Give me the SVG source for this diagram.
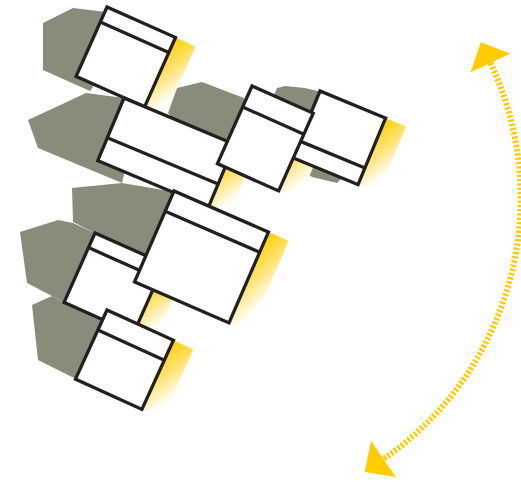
<svg xmlns="http://www.w3.org/2000/svg" width="521" height="482" viewBox="0 0 521 482">
  <defs>
    <style>
      .shade { fill: #8a8c7b; }
      .glow { fill: url(#gy); }
      .win rect { fill: #ffffff; stroke: #231f20; stroke-width: 3.3; }
      .win line { stroke: #231f20; stroke-width: 3.3; }
      .arc { fill: none; stroke: #ffcc00; stroke-width: 6; stroke-dasharray: 2.4 1.9; }
    </style>
    <linearGradient id="gy" x1="0" y1="0" x2="0.5" y2="1">
      <stop offset="0" stop-color="#ffd000"/>
      <stop offset="0.5" stop-color="#ffe372"/>
      <stop offset="1" stop-color="#ffffff"/>
    </linearGradient>
    <marker id="tri" markerUnits="userSpaceOnUse" markerWidth="30" markerHeight="50" viewBox="-2 -24 28 48" refX="0" refY="0" orient="auto-start-reverse">
      <path d="M0,-21 L22,0 L0,21 Z" fill="#ffcc00"/>
    </marker>
  </defs>

  <g id="shadows">
    <polygon class="shade" points="43,23 73,8 106,12 110,50 95,84 90,91 43,70"/>
    <polygon class="shade" points="28,120 86,93 124,98 130,150 122,183 38,148"/>
    <polygon class="shade" points="168,113 177,88 202,82 244,98 250,140 200,150"/>
    <polygon class="shade" points="272,100 277,88 285,86 305,88 322,92 350,150 345,175 337,183 312,177 295,165"/>
    <polygon class="shade" points="72,188 122,183 175,192 165,250 135,282 95,233 73,222"/>
    <polygon class="shade" points="20,232 58,220 73,223 95,233 64,302 52,296 27,283"/>
    <polygon class="shade" points="32,305 52,296 64,302 108,312 76,379 38,360"/>
  </g>

  <g id="glows">
    <rect class="glow" transform="translate(107 7) rotate(24)" x="75" y="0" width="22" height="76"/>
    <rect class="glow" transform="translate(124 98) rotate(22.7)" x="120" y="0" width="22" height="68"/>
    <rect class="glow" transform="translate(252 86) rotate(24)" x="67" y="0" width="22" height="85"/>
    <rect class="glow" transform="translate(320 91) rotate(22.5)" x="71" y="0" width="22" height="72"/>
    <rect class="glow" transform="translate(174 191) rotate(23.5)" x="103" y="0" width="22" height="99"/>
    <rect class="glow" transform="translate(95 233) rotate(24)" x="76" y="0" width="22" height="76"/>
    <rect class="glow" transform="translate(107 310) rotate(24.5)" x="73" y="0" width="22" height="76"/>
  </g>

  <g id="win-d" class="win" transform="translate(320 91) rotate(22.5)">
    <rect width="71" height="72"/>
    <line x1="0" y1="54" x2="71" y2="54"/>
  </g>
  <g id="win-a" class="win" transform="translate(107 7) rotate(24)">
    <rect width="75" height="76"/>
    <line x1="0" y1="16.5" x2="75" y2="16.5"/>
  </g>
  <g id="win-b" class="win" transform="translate(124 98) rotate(22.7)">
    <rect width="120" height="68"/>
    <line x1="0" y1="43" x2="120" y2="43"/>
  </g>
  <g id="win-c" class="win" transform="translate(252 86) rotate(24)">
    <rect width="67" height="85"/>
    <line x1="0" y1="23" x2="67" y2="23"/>
  </g>
  <g id="win-f" class="win" transform="translate(95 233) rotate(24)">
    <rect width="76" height="76"/>
    <line x1="0" y1="16" x2="76" y2="16"/>
  </g>
  <g id="win-e" class="win" transform="translate(174 191) rotate(23.5)">
    <rect width="103" height="99"/>
    <line x1="0" y1="22" x2="103" y2="22"/>
  </g>
  <g id="win-g" class="win" transform="translate(107 310) rotate(24.5)">
    <rect width="73" height="76"/>
    <line x1="0" y1="22" x2="73" y2="22"/>
  </g>

  <g id="connectors">
    <path class="arc" d="M490.5,63 A317,317 0 0 1 383.5,459" marker-start="url(#tri)" marker-end="url(#tri)"/>
  </g>
</svg>
